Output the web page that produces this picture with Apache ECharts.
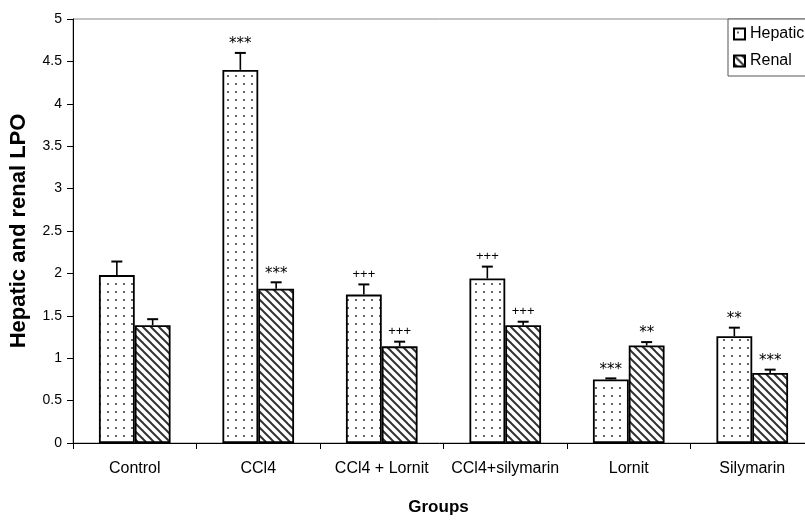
<!DOCTYPE html>
<html><head><meta charset="utf-8">
<script src="https://cdn.jsdelivr.net/npm/echarts@6/dist/echarts.min.js"></script>
<style>html,body{margin:0;padding:0;background:#fff}#c{width:805px;height:522px}</style>
</head><body><div id="c"></div>
<script>
// ---- data ----
const categories = ['Control', 'CCl4', 'CCl4 + Lornit', 'CCl4+silymarin', 'Lornit', 'Silymarin'];
const hepatic    = [1.98, 4.40, 1.75, 1.94, 0.75, 1.26];
const hepaticErr = [0.16, 0.20, 0.12, 0.14, 0.012, 0.10];
const hepaticSig = ['', '***', '+++', '+++', '***', '**'];
const renal      = [1.39, 1.82, 1.14, 1.39, 1.15, 0.825];
const renalErr   = [0.07, 0.075, 0.055, 0.04, 0.04, 0.04];
const renalSig   = ['', '***', '+++', '+++', '**', '***'];
const yMin = 0, yMax = 5, yStep = 0.5;

// ---- patterns ----
function dotPattern() {
  const c = document.createElement('canvas'); c.width = 8; c.height = 8;
  const g = c.getContext('2d');
  g.fillStyle = '#fff'; g.fillRect(0, 0, 8, 8);
  g.fillStyle = '#666'; g.fillRect(3, 3, 2, 2);
  return c;
}
function hatchPattern() {
  const c = document.createElement('canvas'); c.width = 8; c.height = 8;
  const g = c.getContext('2d');
  g.fillStyle = '#fff'; g.fillRect(0, 0, 8, 8);
  g.strokeStyle = '#333'; g.lineWidth = 2;
  for (const o of [-8, 0, 8]) { g.beginPath(); g.moveTo(o - 2, -2); g.lineTo(o + 10, 10); g.stroke(); }
  return c;
}
const dotFill = { image: dotPattern(), repeat: 'repeat' };
const hatchFill = { image: hatchPattern(), repeat: 'repeat' };
const GAP = 0.42;

function errRender(side, sigs) {
  return function (params, api) {
    const i = api.value(0), v = api.value(1), e = api.value(2);
    const band = api.size([1, 0])[0];
    const bw = band * (1 - GAP) / 2;
    const base = api.coord([i, v]);
    const top = api.coord([i, v + e]);
    const x = base[0] + side * bw / 2;
    const sig = sigs[params.dataIndex];
    const isStar = sig.indexOf('*') >= 0;
    return {
      type: 'group',
      children: [
        { type: 'line', shape: { x1: x, y1: base[1], x2: x, y2: top[1] }, style: { stroke: '#000', lineWidth: 1.6 } },
        { type: 'line', shape: { x1: x - 5.5, y1: top[1], x2: x + 5.5, y2: top[1] }, style: { stroke: '#000', lineWidth: 2 } },
        { type: 'text', x: x, y: top[1] - (isStar ? 1 : 4), style: {
            text: sig, textAlign: 'center', textVerticalAlign: 'bottom',
            fontFamily: isStar ? 'DejaVu Sans' : 'Liberation Sans', fontSize: isStar ? 15 : 13, fill: '#000' } }
      ]
    };
  };
}

const chart = echarts.init(document.getElementById('c'), null, { renderer: 'canvas' });
chart.setOption({
  animation: false,
  backgroundColor: '#fff',
  textStyle: { fontFamily: 'Liberation Sans', color: '#000' },
  grid: { left: 73, top: 19, width: 741, height: 424, show: true, borderColor: '#888', borderWidth: 1,
          containLabel: false, outerBoundsMode: 'none' },
  legend: {
    data: ['Hepatic', 'Renal'], orient: 'vertical', left: 728, top: 19,
    padding: [7, 60, 7, 5], itemGap: 11, itemWidth: 11, itemHeight: 11,
    backgroundColor: '#fff', borderColor: '#555', borderWidth: 1,
    textStyle: { fontFamily: 'Liberation Sans', fontSize: 16, color: '#000' },
    icon: 'rect'
  },
  xAxis: {
    type: 'category', data: categories,
    axisLine: { lineStyle: { color: '#000', width: 1 } },
    axisTick: { show: true, length: 6, interval: 0, lineStyle: { color: '#000' } },
    axisLabel: { color: '#000', fontSize: 16, margin: 18, interval: 0, fontFamily: 'Liberation Sans' },
    name: 'Groups', nameLocation: 'middle', nameGap: 56,
    nameTextStyle: { fontSize: 17, fontWeight: 'bold', color: '#000', fontFamily: 'Liberation Sans', padding: [0, 10, 0, 0] }
  },
  yAxis: {
    type: 'value', min: yMin, max: yMax, interval: yStep,
    axisLine: { show: true, lineStyle: { color: '#000', width: 1 } },
    axisTick: { show: true, length: 6, lineStyle: { color: '#000' } },
    splitLine: { show: false },
    axisLabel: { color: '#000', fontSize: 14, margin: 11, fontFamily: 'Liberation Sans' },
    name: 'Hepatic and renal LPO', nameLocation: 'middle', nameGap: 43, nameRotate: 90,
    nameTextStyle: { fontSize: 22, fontWeight: 'bold', color: '#000', fontFamily: 'Liberation Sans' }
  },
  series: [
    { name: 'Hepatic', type: 'bar', data: hepatic, barGap: '0%', barCategoryGap: (GAP * 100) + '%',
      itemStyle: { color: dotFill, borderColor: '#000', borderWidth: 1.8 } },
    { name: 'Renal', type: 'bar', data: renal, barGap: '0%', barCategoryGap: (GAP * 100) + '%',
      itemStyle: { color: hatchFill, borderColor: '#000', borderWidth: 1.8 } },
    { name: 'hepErr', type: 'custom', silent: true, z: 5,
      data: hepatic.map((v, i) => [i, v, hepaticErr[i]]), encode: { x: 0, y: 1 },
      renderItem: errRender(-1, hepaticSig) },
    { name: 'renErr', type: 'custom', silent: true, z: 5,
      data: renal.map((v, i) => [i, v, renalErr[i]]), encode: { x: 0, y: 1 },
      renderItem: errRender(1, renalSig) }
  ]
});
</script>
</body></html>
